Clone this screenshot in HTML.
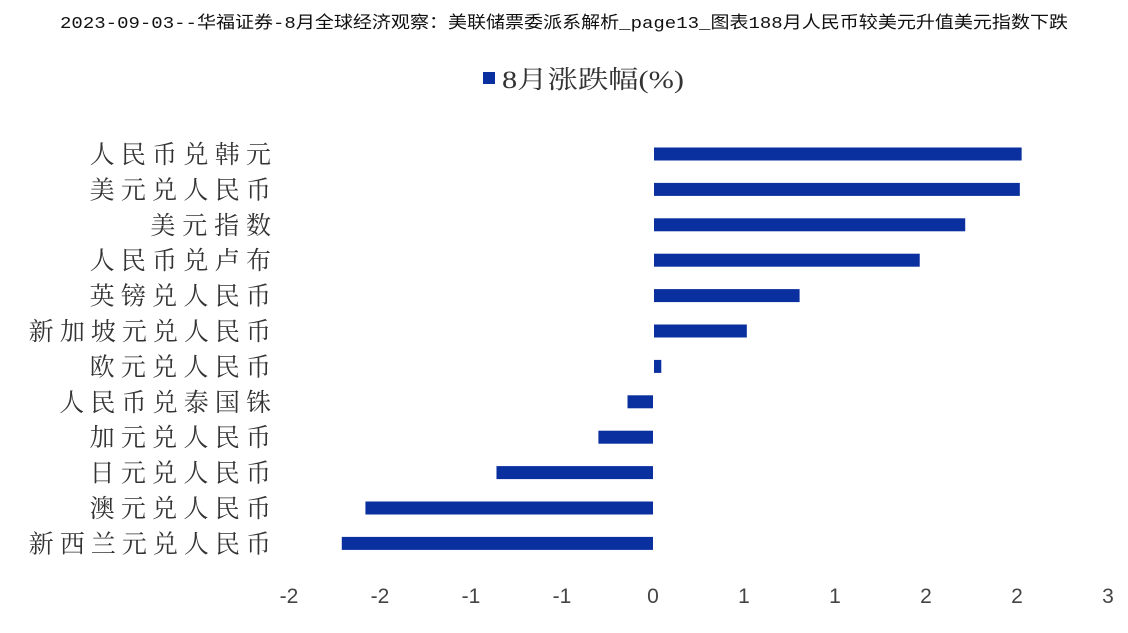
<!DOCTYPE html>
<html><head><meta charset="utf-8"><style>
body{margin:0;width:1128px;height:628px;background:#fff;overflow:hidden;font-family:"Liberation Serif","Noto Serif CJK SC",serif}
</style></head><body>
<svg width="1128" height="628">
<text x="60" y="28" font-size="17" textLength="1008" lengthAdjust="spacingAndGlyphs" font-family="Liberation Mono, Noto Sans CJK SC, monospace" fill="#111">2023-09-03--华福证券-8月全球经济观察：美联储票委派系解析_page13_图表188月人民币较美元升值美元指数下跌</text>
<g>
<rect x="483" y="72" width="12" height="12" fill="#0a2f9e"/>
<text x="502" y="88" font-size="25" textLength="182" lengthAdjust="spacingAndGlyphs" fill="#333">8月涨跌幅(%)</text>
</g>
<g id="bars"></g><g id="ylabels"></g><g id="xticks"></g>
</svg>
<script>
const categories=["人民币兑韩元","美元兑人民币","美元指数","人民币兑卢布","英镑兑人民币","新加坡元兑人民币","欧元兑人民币","人民币兑泰国铢","加元兑人民币","日元兑人民币","澳元兑人民币","新西兰元兑人民币"];
const values=[2.02,2.01,1.71,1.46,0.80,0.51,0.04,-0.14,-0.30,-0.86,-1.58,-1.71];
const tickValues=[-2,-1.5,-1,-0.5,0,0.5,1,1.5,2,2.5];
const tickLabels=["-2","-2","-1","-1","0","1","1","2","2","3"];
const ns="http://www.w3.org/2000/svg";
const x=v=>653+v*182;
const y=i=>154+i*35.4;
const bars=document.getElementById('bars'),yl=document.getElementById('ylabels'),xt=document.getElementById('xticks');
values.forEach((v,i)=>{
 const r=document.createElementNS(ns,'rect');
 r.setAttribute('x',Math.min(x(0),x(v))+(v>0?1:0));
 r.setAttribute('y',y(i)-6.5);
 r.setAttribute('width',Math.abs(x(v)-x(0)));
 r.setAttribute('height',13);
 r.setAttribute('fill','#0a2f9e');
 
 
 bars.appendChild(r);
 const n=categories[i].length;
 const w=n*30.4-1;
 const t=document.createElementNS(ns,'text');
 t.setAttribute('x',271-w);t.setAttribute('y',y(i)+9);
 t.setAttribute('font-size','25');t.setAttribute('fill','#333');
 t.setAttribute('textLength',w);t.setAttribute('lengthAdjust','spacing');
 t.textContent=categories[i];
 
 
 yl.appendChild(t);
});
tickValues.forEach((v,i)=>{
 const t=document.createElementNS(ns,'text');
 t.setAttribute('x',x(v));t.setAttribute('y',603);
 t.setAttribute('text-anchor','middle');t.setAttribute('font-size','21');t.setAttribute('fill','#444');
 t.setAttribute('font-family','Liberation Sans, sans-serif');
 t.textContent=tickLabels[i];
 
 
 xt.appendChild(t);
});
</script>
</body></html>
